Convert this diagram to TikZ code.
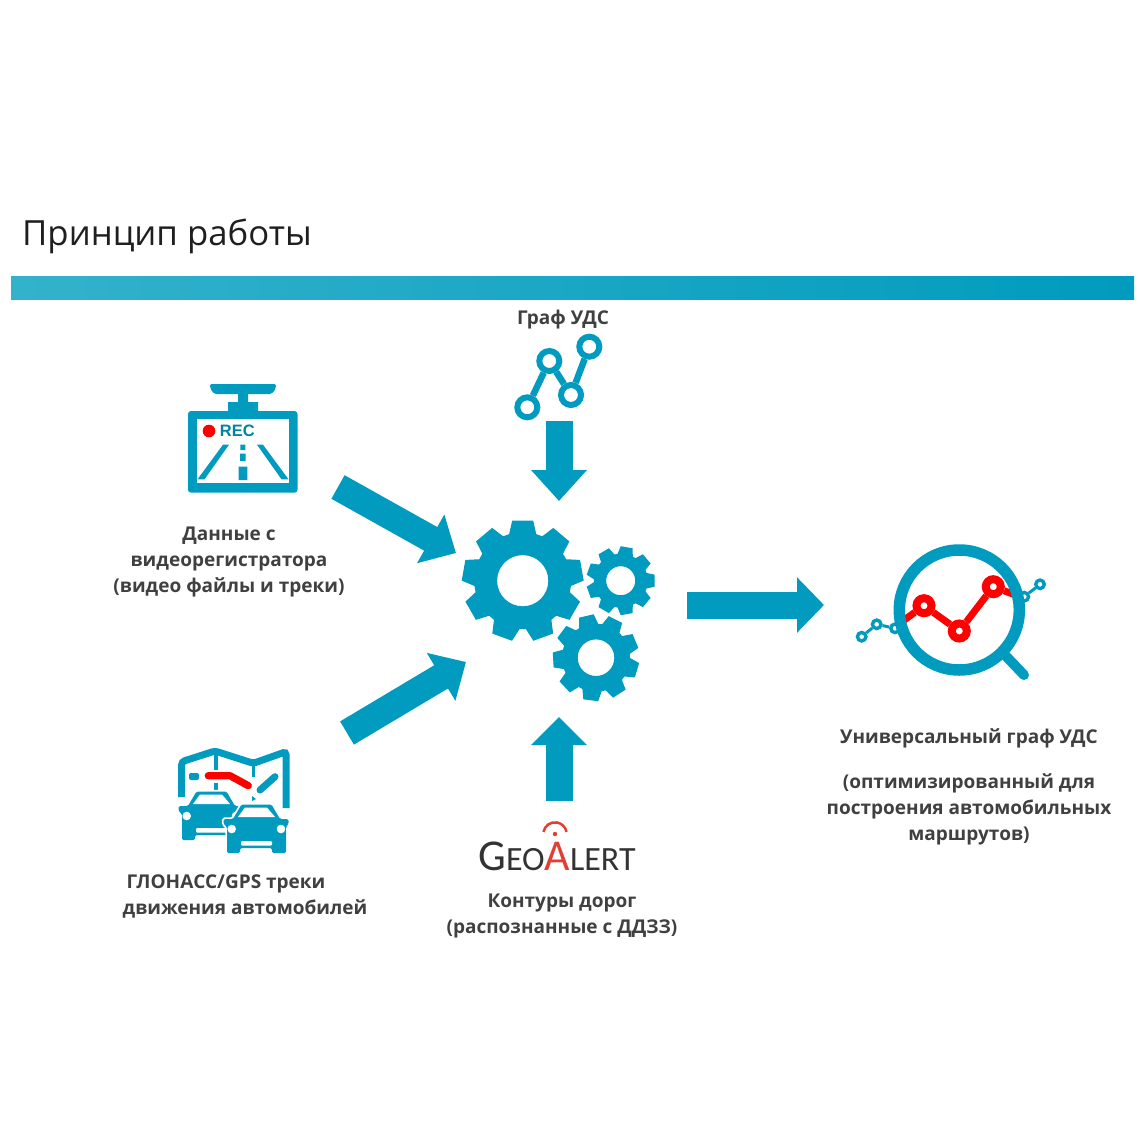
\documentclass[tikz,border=0pt]{standalone}
\usepackage{fontspec}
\setmainfont{Open Sans}
\newfontfamily\recfont{Liberation Sans}
\newfontfamily\logofont{Carlito}
\usetikzlibrary{arrows.meta,calc}
\definecolor{geoblue}{RGB}{0,155,190}
\definecolor{barleft}{RGB}{52,178,203}
\definecolor{labelgray}{RGB}{64,64,64}
\definecolor{logored}{RGB}{226,62,50}
\tikzset{
    bigarrow/.style={geoblue, line width=27pt, -{Triangle[width=54pt,length=#1]}},
    bigarrow/.default=31pt,
    infolabel/.style={text=labelgray, font=\fontsize{19}{26}\selectfont\bfseries, align=center, inner sep=0pt},
    bluering/.style={circle, draw=geoblue, fill=white, line width=6pt, minimum size=20pt, inner sep=0pt},
    tinyring/.style={circle, draw=geoblue, fill=white, line width=3.4pt, minimum size=8.5pt, inner sep=0pt},
    redring/.style={circle, draw=red, fill=white, line width=8pt, minimum size=15pt, inner sep=0pt}
}
% centre x, centre y, outer, root, hole, tooth width, first angle
\newcommand{\gearwheel}[7]{
    \pgfmathsetmacro{\ta}{asin(#6/2/#3)}
    \pgfmathsetmacro{\tb}{asin(#6/2/#4)*1.3}
    \fill[geoblue, even odd rule, shift={(#1,#2)}] (#7-\tb:#4)
        \foreach \k [evaluate=\k as \a using #7+\k*40] in {0,...,8} {
            -- (\a-\tb:#4) -- (\a-\ta:#3) -- (\a+\ta:#3) -- (\a+\tb:#4)
        } -- cycle (0,0) circle[radius=#5];
}
% one car of the tracks icon
\newcommand{\caricon}[2]{
    \begin{scope}[shift={(#1,#2)}]
        \fill[geoblue, rounded corners=1.5pt, preaction={draw=white, line width=3.5pt}] (-23,-11) -- (-14.5,-25.5) -- (15.5,-25.5) -- (24,-11) -- (32.5,-11) -- (32.5,-6) -- (30,-3) -- (30,23) -- (16,23) -- (16,18) -- (-16,18) -- (-16,23) -- (-29,23) -- (-29,-3) -- (-32.5,-6) -- (-32.5,-11) -- cycle;
        \fill[white] (-18,-13) -- (-11,-22.5) -- (11,-22.5) -- (19,-13) -- cycle;
        \fill[white] (-24.3,-1) circle (4.3) (25,-1) circle (4.3);
        \fill[white, rounded corners=1pt] (-15,11) rectangle (16,15.5);
    \end{scope}
}

\begin{document}
\begin{tikzpicture}[x=1pt,y=-1pt]
    \useasboundingbox (0,0) rectangle (1140,1140);
    % Title and bar
    \node[anchor=base west, inner sep=0pt, text=black!88, font=\fontsize{34.7}{40}\selectfont] (title) at (22,245) {Принцип работы};
    \path[left color=barleft, right color=geoblue, draw=none] (11,276) rectangle (1134,299);

    % Big arrows
    \coordinate (recTail) at (338,487);
    \coordinate (recHead) at (456,553);
    \coordinate (trackTail) at (347,733);
    \coordinate (trackHead) at (466,662);
    \coordinate (graphTail) at (559,421);
    \coordinate (graphHead) at (559,501);
    \coordinate (geoTail) at (559,801);
    \coordinate (geoHead) at (559,717);
    \coordinate (outTail) at (687,605);
    \coordinate (outHead) at (824,605);
    \draw[bigarrow=29pt] (recTail) -- (recHead);
    \draw[bigarrow=29pt] (trackTail) -- (trackHead);
    \draw[bigarrow] (graphTail) -- (graphHead);
    \draw[bigarrow=28pt] (geoTail) -- (geoHead);
    \draw[bigarrow=27pt] (outTail) -- (outHead);

    % Gears
    \gearwheel{522.7}{580.7}{61}{48.5}{25.6}{21}{270}
    \gearwheel{620.7}{580.7}{34.5}{27}{14.5}{12}{0}
    \gearwheel{596}{657.7}{43.5}{34}{18.3}{15}{17}

    % Dash camera
    \fill[geoblue, rounded corners=2pt] (210,384) -- (276,384) -- (276,388) -- (272,394) -- (214,394) -- (210,388) -- cycle;
    \fill[geoblue] (238,393) rectangle (248,403) (228,402) rectangle (258,412);
    \fill[geoblue, rounded corners=3pt, even odd rule] (188,411) rectangle (297.5,492.7);
    \fill[white] (196.7,419) rectangle (288.7,483);
    \fill[red] (209,431) circle (6.3);
    \node[text=geoblue!85!black, font=\fontsize{16.5}{18}\selectfont\recfont\bfseries, inner sep=0pt] (rectext) at (237.3,431) {REC};
    \fill[geoblue] (223,444.7) -- (229,444.7) -- (204.5,479.3) -- (197.5,479.3) -- cycle;
    \fill[geoblue] (257,444.7) -- (263,444.7) -- (288.5,479.3) -- (281.5,479.3) -- cycle;
    \fill[geoblue] (240.3,444.7) rectangle (245.3,450) (240,453.5) rectangle (245.7,461) (238.5,466.7) rectangle (247.3,480);
    \node[infolabel] (reclabel) at (229,562) {Данные с\\видеорегистратора\\(видео файлы и треки)};

    % Map with tracks
    \draw[geoblue, line width=7pt, rounded corners=3pt] (181.7,797) -- (181.7,761.7) -- (215,751) -- (253.3,763.3) -- (286,751.7) -- (286,808);
    \draw[geoblue, line width=3.5pt] (216,752) -- (216,770) (216,783) -- (216,790) (253.3,763) -- (253.3,777);
    \fill[geoblue, rounded corners=2pt] (189,773) rectangle (199,780);
    \draw[red, line width=7.3pt, line cap=round, line join=round] (208.3,775.7) -- (230,775.7) -- (248.3,785.7);
    \draw[geoblue, line width=7pt, line cap=round] (275,776.7) -- (260,790);
    \fill[geoblue] (252,796) -- (256,799) -- (252,801) -- cycle;
    \caricon{211}{817}
    \caricon{256}{830}
    \node[infolabel, align=left] (tracklabel) at (245,896.5) {\hspace*{4pt}ГЛОНАСС/GPS треки\\движения автомобилей};

    % Road graph icon
    \node[bluering] (g1) at (527.3,407.3) {};
    \node[bluering] (g2) at (549.3,361) {};
    \node[bluering] (g3) at (571,395) {};
    \node[bluering] (g4) at (589.3,346.7) {};
    \draw[geoblue, line width=6.5pt] (g1) -- (g2) (g2) -- (g3) (g3) -- (g4);
    \node[infolabel] (graphlabel) at (563,320) {Граф УДС};

    % GeoAlert logo
    \draw[logored, line width=2.5pt] (555,834) ++(-170:11.7) arc[start angle=-170, end angle=-10, radius=11.7];
    \fill[logored] (555,834) circle (2.2);
    \node[inner sep=0pt, anchor=base, text=black!80, font=\logofont] (logo) at (557,870) {\fontsize{44}{44}\selectfont G\fontsize{34}{34}\selectfont EO\fontsize{44}{44}\selectfont\textcolor{logored}{A}\fontsize{34}{34}\selectfont LERT};
    \node[infolabel] (geolabel) at (562,916) {Контуры дорог\\(распознанные с ДДЗЗ)};

    % Magnifier with universal graph
    \node[tinyring] (s1) at (861.7,636.7) {};
    \node[tinyring] (s2) at (876.7,624.3) {};
    \node[tinyring] (s3) at (895,628.3) {};
    \node[tinyring] (s4) at (1024.3,596.7) {};
    \node[tinyring] (s5) at (1040,584.3) {};
    \draw[geoblue, line width=3pt] (s1) -- (s2) (s2) -- (s3) (s4) -- (s5);
    \fill[white] (959.3,610) circle (60);
    \begin{scope}
        \clip (959.3,610) circle (60);
        \coordinate (rLeft) at (900,623);
        \coordinate (rRight) at (1018,596);
        \node[redring] (r1) at (924,605.7) {};
        \node[redring] (r2) at (959.3,631) {};
        \node[redring] (r3) at (993.3,586.7) {};
        \draw[red, line width=7pt] (rLeft) -- (r1) (r1) -- (r2) (r2) -- (r3) (r3) -- (rRight);
    \end{scope}
    \draw[geoblue, line width=10pt, line cap=round] (1003.3,653.3) -- (1024,675);
    \draw[geoblue, line width=11.5pt] (959.3,610) circle (60);
    \node[infolabel] (outlabel) at (969,738) {Универсальный граф УДС};
    \node[infolabel] (outnote) at (969,809.5) {(оптимизированный для\\построения автомобильных\\маршрутов)};
\end{tikzpicture}
\end{document}
